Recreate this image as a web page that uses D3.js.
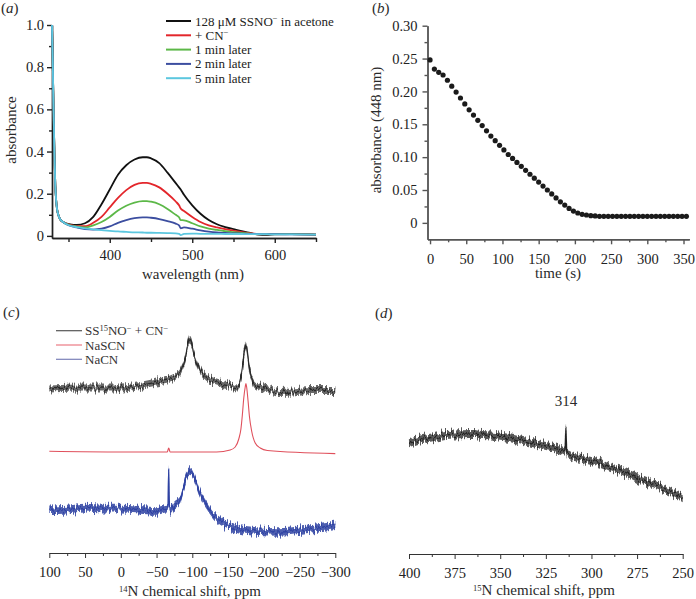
<!DOCTYPE html>
<html>
<head>
<meta charset="utf-8">
<title>SSNO- + CN-</title>
<script src="https://cdn.jsdelivr.net/npm/d3@7"></script>
<style>
  body { margin: 0; background: #fff; }
  svg { display: block; font-family: "Liberation Serif", "DejaVu Serif", serif; }
  .title { font-size: 15px; fill: #2a2a2a; }
  .legend { font-size: 13px; fill: #222; }
</style>
</head>
<body>
<div id="fig"></div>
<script>
// ---- (a) UV-vis spectra ----
const wavelength = [330,331,332,333,334,335,336,338,340,343,347,352,360,370,380,390,400,410,420,430,
  440,445,450,460,470,480,484,486,490,500,510,520,530,540,550,560,570,580,590,600,620,650];
const abs128 = [1.0,.80,.58,.38,.24,.17,.13,.095,.078,.067, .060,.055,.052,.060,.090,.150,.220,.290,.335,.362,
  .373,.373,.368,.345,.300,.250,.230,.220,.195,.145, .105,.075,.055,.042,.032,.022,.014,.006,.005,.007, .008,.006];
const absCN = [1.0,.80,.58,.38,.24,.17,.13,.095,.078,.067, .058,.052,.046,.046,.062,.090,.135,.180,.217,.242,
  .251,.251,.247,.230,.200,.163,.145,.130,.118,.090, .066,.050,.040,.032,.025,.018,.013,.009,.008,.008, .008,.006];
const abs1min = [1.0,.80,.58,.38,.24,.17,.13,.095,.078,.067, .057,.050,.044,.040,.050,.066,.090,.120,.143,.158,
  .165,.165,.162,.150,.128,.100,.088,.075,.074,.060, .045,.035,.028,.022,.018,.014,.011,.009,.008,.008, .008,.006];
const abs2min = [1.0,.80,.58,.38,.24,.17,.13,.095,.078,.067, .056,.048,.040,.032,.030,.034,.045,.062,.075,.084,
  .088,.088,.086,.080,.070,.058,.050,.036,.040,.034, .026,.020,.016,.014,.012,.011,.010,.009,.008,.008, .007,.006];
const abs5min = [1.0,.80,.58,.38,.24,.17,.13,.095,.078,.067, .056,.048,.042,.036,.031,.027,.024,.021,.019,.017,
  .016,.015,.015,.014,.013,.012,.010,.004,.010,.011, .010,.010,.010,.009,.009,.009,.008,.008,.008,.007, .007,.006];
const specLabels = ["128 \u03bcM SSNO|\u2212| in acetone", "+ CN|\u2212|", "1 min later", "2 min later", "5 min later"];
const specColors = ["#111111", "#e3262b", "#5cb848", "#3c4ea0", "#5cc7df"];
const aTicksX = [400, 500, 600], aMinorX = [350, 450, 550, 650];
const aTicksY = [0, 0.2, 0.4, 0.6, 0.8, 1.0], aMinorY = [0.1, 0.3, 0.5, 0.7, 0.9];

// ---- (b) kinetics at 448 nm ----
const timeS = [0,6,12,18,24,30,36,42,48,54,60,66,72,78,84,90,96,102,108,114,120,126,132,138,144,150,
  156,162,168,174,180,186,192,198,204,210,216,222,228,234,240,246,252,258,264,270,276,282,288,294,
  300,306,312,318,324,330,336,342,348,354];
const abs448 = [.248,.234,.229,.225,.217,.208,.199,.190,.181,.172,.164,.156,.148,.140,.132,.125,.118,.111,.104,.098,
  .092,.086,.080,.074,.068,.062,.056,.050,.044,.038,.032,.027,.022,.018,.015,.013,.012,.011,.0105,.010,
  .010,.010,.010,.010,.010,.010,.010,.010,.010,.010,.010,.010,.010,.010,.010,.010,.010,.010,.010,.010];
const bTicksX = [0,50,100,150,200,250,300,350], bMinorX = [25,75,125,175,225,275,325];
const bTicksY = [0,0.05,0.10,0.15,0.20,0.25,0.30], bMinorY = [0.025,0.075,0.125,0.175,0.225,0.275];

// ---- (c) 14N NMR (intensity, a.u.) ----
const ppmMix = [100,50,0,-27,-50,-69,-78,-85,-90,-93,-96,-99,-102,-107,-113,-122,-134,-153,-163,-167,-170,-172,-174,-175,-176,-178,-181,-185,-190,-204,-223,-241,-265,-300];
const intMix = [164,165,165,167.5,171,174,177.5,184,194,206,213,210,199,189,181,174.5,171,167.5,165,172,185,198,206,208,206,195,180,171,167,164.5,160.5,161,162.5,162.5];
const ppmSCN = [100,0,-65,-67,-69,-134,-153,-160,-165,-168,-170,-172,-174,-175,-176,-178,-180,-183,-188,-195,-205,-300];
const intSCN = [101.7,101,101,105,101,101,103,106,114,124,138,155,166,169.4,166,152,136,122,110,105,102.5,99.4];
const ppmCN = [100,75,50,25,0,-25,-50,-64,-66,-67,-68,-70,-75,-83,-88,-92,-96,-100,-104,-110,-120,-130,-145,-165,-190,-220,-250,-275,-300];
const intCN = [42.7,43.4,45.4,44.4,44.4,43.4,42,44.4,44,84,44,42,47.7,52.7,66,78,82,80,73,61,47.7,37.7,29.4,24.4,22,21,22.7,25,27.7];
const nmrLabels = ["SS|15|NO|\u2212| + CN|\u2212|", "NaSCN", "NaCN"];
const cTicks = [100,50,0,-50,-100,-150,-200,-250,-300], cMinor = [75,25,-25,-75,-125,-175,-225,-275];

// ---- (d) 15N NMR ----
const ppm15 = [400,395,390,385,380,375,370,365,360,355,350,345,340,335,330,325,320,316,314.5,314,313.5,312,310,305,300,295,290,285,280,275,270,265,260,255,250];
const int15 = [110.7,114,115.7,117.5,119,119.5,119.7,120,119,118.5,117.3,116,114,112,110,108,105.7,103.5,102.5,127,100.5,99,97.3,96,94,91,87.3,84,80.7,76,72.3,69,65.7,61,55.7];
const dTicks = [400,375,350,325,300,275,250], dMinor = [387.5,362.5,337.5,312.5,287.5,262.5];

const svg = d3.select("#fig").append("svg").attr("width", 696).attr("height", 599);

// texture for the noisy NMR traces (render effect only, data stays smooth)
const defs = svg.append("defs");
const f = defs.append("filter").attr("id", "grain")
  .attr("x", "-5%").attr("y", "-60%").attr("width", "110%").attr("height", "220%");
f.append("feTurbulence").attr("type", "fractalNoise").attr("baseFrequency", "0.7 0.04")
  .attr("numOctaves", 2).attr("seed", 4).attr("result", "noise");
f.append("feColorMatrix").attr("in", "noise").attr("type", "matrix")
  .attr("values", "1 0 0 0 0  0 0 0 0 0.5  0 0 0 0 0  0 0 0 0 1").attr("result", "shift");
f.append("feDisplacementMap").attr("in", "SourceGraphic").attr("in2", "shift")
  .attr("scale", 12).attr("xChannelSelector", "G").attr("yChannelSelector", "R");

function styleAxis(g, color, w) {
  g.attr("font-family", null).attr("font-size", null);
  g.select(".domain").attr("stroke", color).attr("stroke-width", w);
  g.selectAll(".tick line").attr("stroke", color).attr("stroke-width", w);
  g.selectAll(".tick text").attr("fill", "#222").style("font-size", "14.5px");
}

// text with |sup| segments
function richText(sel, str) {
  const parts = str.split("|");
  let up = false;
  parts.forEach((p, i) => {
    if (p === "") { if (i % 2 === 1) up = true; return; }
    const t = sel.append("tspan").text(p);
    if (i % 2 === 1) { t.attr("dy", -4.5).style("font-size", "8.5px"); up = true; }
    else if (up) { t.attr("dy", 4.5); up = false; }
  });
}

function panelLabel(x, y, letter) {
  const t = svg.append("text").attr("class", "title").attr("x", x).attr("y", y);
  t.append("tspan").text("(");
  t.append("tspan").attr("font-style", "italic").text(letter);
  t.append("tspan").text(")");
}

// ================= (a) =================
const xA = d3.scaleLinear().domain([330, 650]).range([52, 316]);
const yA = d3.scaleLinear().domain([-0.01, 1.0]).range([238, 25]);
const gA = svg.append("g");

gA.append("g").attr("transform", "translate(0,238)")
  .call(d3.axisBottom(xA).tickValues(aMinorX).tickFormat("").tickSize(4).tickSizeOuter(0))
  .call(g => styleAxis(g, "#222", 1.4));
gA.append("g").attr("transform", "translate(0,238)")
  .call(d3.axisBottom(xA).tickValues(aTicksX).tickSize(5).tickPadding(7).tickSizeOuter(0))
  .call(g => styleAxis(g, "#222", 1.4));
gA.append("g").attr("transform", "translate(52,0)")
  .call(d3.axisLeft(yA).tickValues(aMinorY).tickFormat("").tickSize(3).tickSizeOuter(0))
  .call(g => styleAxis(g, "#222", 1.4));
gA.append("g").attr("transform", "translate(52,0)")
  .call(d3.axisLeft(yA).tickValues(aTicksY).tickSize(5).tickPadding(3).tickSizeOuter(0)
    .tickFormat(d => d === 0 ? "0" : d.toFixed(1)))
  .call(g => styleAxis(g, "#222", 1.4));

const specSeries = [abs128, absCN, abs1min, abs2min, abs5min];
const lineA = d3.line().x(d => xA(d[0])).y(d => yA(d[1])).curve(d3.curveMonotoneX);
specSeries.forEach((s, i) => {
  gA.append("path")
    .datum(wavelength.map((w, j) => [w, s[j]]))
    .attr("d", lineA)
    .attr("fill", "none")
    .attr("stroke", specColors[i])
    .attr("stroke-width", 1.8);
});

specLabels.forEach((lab, i) => {
  const yy = 21 + i * 14.3;
  gA.append("line").attr("x1", 166).attr("x2", 191).attr("y1", yy).attr("y2", yy)
    .attr("stroke", specColors[i]).attr("stroke-width", 2);
  const t = gA.append("text").attr("class", "legend").attr("x", 195).attr("y", yy + 4.5);
  richText(t, lab);
});

gA.append("text").attr("class", "title").attr("x", 193).attr("y", 279)
  .attr("text-anchor", "middle").text("wavelength (nm)");
gA.append("text").attr("class", "title").attr("transform", "translate(16,130) rotate(-90)")
  .attr("text-anchor", "middle").text("absorbance");
panelLabel(1, 13, "a");

// ================= (b) =================
const xB = d3.scaleLinear().domain([-3.5, 358]).range([427.5, 689.3]);
const yB = d3.scaleLinear().domain([-0.025, 0.30]).range([239.3, 25.7]);
const gB = svg.append("g");

gB.append("g").attr("transform", "translate(0,239.3)")
  .call(d3.axisBottom(xB).tickValues(bMinorX).tickFormat("").tickSize(3).tickSizeOuter(0))
  .call(g => styleAxis(g, "#555", 1.4));
gB.append("g").attr("transform", "translate(0,239.3)")
  .call(d3.axisBottom(xB).tickValues(bTicksX).tickSize(5).tickPadding(9).tickSizeOuter(0))
  .call(g => styleAxis(g, "#555", 1.4));
gB.append("g").attr("transform", "translate(427.5,0)")
  .call(d3.axisLeft(yB).tickValues(bMinorY).tickFormat("").tickSize(3).tickSizeOuter(0))
  .call(g => styleAxis(g, "#555", 1.4));
gB.append("g").attr("transform", "translate(427.5,0)")
  .call(d3.axisLeft(yB).tickValues(bTicksY).tickSize(5).tickPadding(5).tickSizeOuter(0)
    .tickFormat(d => d === 0 ? "0" : d.toFixed(2)))
  .call(g => styleAxis(g, "#555", 1.4));

gB.selectAll("circle.pt").data(timeS.map((t, i) => [t, abs448[i]])).enter()
  .append("circle").attr("class", "pt")
  .attr("cx", d => xB(d[0])).attr("cy", d => yB(d[1])).attr("r", 2.6)
  .attr("fill", "#1b1b1b");

gB.append("text").attr("class", "title").attr("x", 558).attr("y", 278)
  .attr("text-anchor", "middle").text("time (s)");
gB.append("text").attr("class", "title").attr("transform", "translate(381,130) rotate(-90)")
  .attr("text-anchor", "middle").text("absorbance (448 nm)");
panelLabel(372, 13, "b");

// ================= (c) =================
const xC = d3.scaleLinear().domain([100, -300]).range([49.3, 335.3]);
const yC = d3.scaleLinear().domain([0, 240]).range([553, 313]);
const gC = svg.append("g");

gC.append("g").attr("transform", "translate(0,553)")
  .call(d3.axisBottom(xC).tickValues(cMinor).tickFormat("").tickSize(3).tickSizeOuter(0))
  .call(g => styleAxis(g, "#333", 1));
gC.append("g").attr("transform", "translate(0,553)")
  .call(d3.axisBottom(xC).tickValues(cTicks).tickSize(5).tickPadding(9).tickSizeOuter(0)
    .tickFormat(d => d < 0 ? "\u2212" + Math.abs(d) : d))
  .call(g => styleAxis(g, "#333", 1));

function noisyTrace(g, xs, ppm, vals, ys, color, band, bandOpacity, lw) {
  const pts = ppm.map((p, i) => [p, vals[i]]);
  if (band > 0) {
    g.append("path").datum(pts)
      .attr("d", d3.area().x(d => xs(d[0])).y0(d => ys(d[1]) + band).y1(d => ys(d[1]) - band)
        .curve(d3.curveMonotoneX))
      .attr("fill", color).attr("opacity", bandOpacity)
      .attr("filter", "url(#grain)");
  }
  g.append("path").datum(pts)
    .attr("d", d3.line().x(d => xs(d[0])).y(d => ys(d[1])).curve(d3.curveMonotoneX))
    .attr("fill", "none").attr("stroke", color).attr("stroke-width", lw)
    .attr("filter", band > 0 ? "url(#grain)" : null);
}

noisyTrace(gC, xC, ppmMix, intMix, yC, "#2a2a2a", 3.5, 0.7, 1.4);
noisyTrace(gC, xC, ppmSCN, intSCN, yC, "#e0505c", 0, 0, 1.1);
noisyTrace(gC, xC, ppmCN, intCN, yC, "#2f43a3", 3.8, 0.85, 1.5);

const nmrLegendColors = ["#555555", "#ec7a84", "#7b80b8"];
nmrLabels.forEach((lab, i) => {
  const yy = 330.7 + i * 14.3;
  gC.append("line").attr("x1", 56).attr("x2", 82).attr("y1", yy).attr("y2", yy)
    .attr("stroke", nmrLegendColors[i]).attr("stroke-width", 1.2);
  const t = gC.append("text").attr("class", "legend").attr("x", 85).attr("y", yy + 4.5).style("fill", "#333");
  richText(t, lab);
});

const tC = gC.append("text").attr("class", "title").attr("x", 190).attr("y", 596).attr("text-anchor", "middle");
richText(tC, "|14|N chemical shift, ppm");
panelLabel(3, 317, "c");

// ================= (d) =================
const xD = d3.scaleLinear().domain([400, 250]).range([409, 682.7]);
const yD = d3.scaleLinear().domain([0, 240]).range([554, 314]);
const gD = svg.append("g");

gD.append("g").attr("transform", "translate(0,554)")
  .call(d3.axisBottom(xD).tickValues(dMinor).tickFormat("").tickSize(3).tickSizeOuter(0))
  .call(g => styleAxis(g, "#333", 1));
gD.append("g").attr("transform", "translate(0,554)")
  .call(d3.axisBottom(xD).tickValues(dTicks).tickSize(5).tickPadding(9).tickSizeOuter(0))
  .call(g => styleAxis(g, "#333", 1));

noisyTrace(gD, xD, ppm15, int15, yD, "#222222", 4, 0.75, 1.4);

gD.append("text").attr("class", "title").attr("x", xD(314)).attr("y", 406)
  .attr("text-anchor", "middle").text("314");
const tD = gD.append("text").attr("class", "title").attr("x", 544).attr("y", 595).attr("text-anchor", "middle");
richText(tD, "|15|N chemical shift, ppm");
panelLabel(375, 318, "d");
</script>
</body>
</html>
